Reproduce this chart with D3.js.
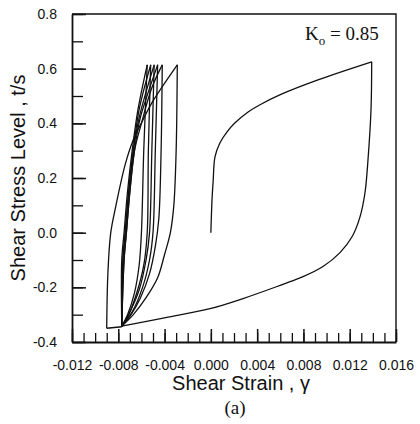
<!DOCTYPE html>
<html>
<head>
<meta charset="utf-8">
<script src="https://cdn.jsdelivr.net/npm/d3@7"></script>
<style>
  body { margin: 0; background: #fff; }
  svg { display: block; }
  .axis text { font-family: "Liberation Sans", Arial, sans-serif; font-size: 14px; fill: #111; }
  .axis path, .axis line { stroke: #111; }
</style>
</head>
<body>
<svg class="chart"></svg>
<script>
const width = 420;
const height = 424;

// tick labels
const xTickLabels = ["-0.012", "-0.008", "-0.004", "0.000", "0.004", "0.008", "0.012", "0.016"];
const yTickLabels = ["-0.4", "-0.2", "0.0", "0.2", "0.4", "0.6", "0.8"];

// branches: [shear strain, stress level]
const virginLoad = [[0, 0], [0.0001, 0.12], [0.0002, 0.19], [0.00036, 0.278], [0.00079, 0.329],
  [0.0014, 0.369], [0.00209, 0.402], [0.00313, 0.439], [0.00425, 0.468], [0.006, 0.505],
  [0.00926, 0.559], [0.0139, 0.625]];
const bigUnload = [[0.0139, 0.625], [0.01384, 0.45], [0.01358, 0.267], [0.01332, 0.146],
  [0.01289, 0.058], [0.0122, -0.015], [0.01116, -0.073], [0.00969, -0.124], [0.00797, -0.161],
  [0.00684, -0.179], [0.00572, -0.197], [0.00278, -0.241], [-0.00007, -0.278], [-0.0039, -0.311],
  [-0.0077, -0.342]];
const bottomLink = [[-0.0077, -0.344], [-0.009, -0.35]];

const load1 = [[-0.009, -0.35], [-0.0089, -0.15], [-0.00865, 0.0], [-0.0082, 0.1], [-0.0074, 0.25],
  [-0.0067, 0.34], [-0.0059, 0.41], [-0.0051, 0.475], [-0.0029, 0.614]];
const unload1 = [[-0.0029, 0.614], [-0.003, 0.3], [-0.0032, 0.1], [-0.0035, 0.0], [-0.004, -0.08],
  [-0.0046, -0.165], [-0.0056, -0.238], [-0.0067, -0.3], [-0.0077, -0.342]];
const load2 = [[-0.0077, -0.342], [-0.0075, -0.1], [-0.0073, 0.0], [-0.007, 0.15], [-0.0066, 0.3],
  [-0.006, 0.4], [-0.0051, 0.53], [-0.0042, 0.614]];
const unload2 = [[-0.0042, 0.614], [-0.0043, 0.3], [-0.0045, 0.05], [-0.0048, -0.05], [-0.0053, -0.15],
  [-0.0061, -0.24], [-0.0069, -0.3], [-0.0077, -0.342]];
const load3 = [[-0.0077, -0.342], [-0.0075, -0.1], [-0.0073, 0.0], [-0.007, 0.15], [-0.0066, 0.3],
  [-0.0061, 0.42], [-0.0046, 0.614]];
const unload3 = [[-0.0046, 0.614], [-0.0048, 0.3], [-0.005, 0.0], [-0.0053, -0.1], [-0.0059, -0.2],
  [-0.0068, -0.29], [-0.0077, -0.342]];
const load4 = [[-0.0077, -0.342], [-0.0076, -0.1], [-0.0074, 0.0], [-0.0071, 0.15], [-0.0067, 0.3],
  [-0.0062, 0.42], [-0.0049, 0.614]];
const unload4 = [[-0.0049, 0.614], [-0.0051, 0.3], [-0.0053, 0.0], [-0.0056, -0.1], [-0.0062, -0.21],
  [-0.007, -0.29], [-0.0077, -0.342]];
const load5 = [[-0.0077, -0.342], [-0.0076, -0.1], [-0.0074, 0.0], [-0.0071, 0.15], [-0.0067, 0.3],
  [-0.0062, 0.45], [-0.0052, 0.614]];
const unload5 = [[-0.0052, 0.614], [-0.0054, 0.3], [-0.0055, 0.0], [-0.0058, -0.12], [-0.0064, -0.22],
  [-0.0071, -0.3], [-0.0077, -0.342]];
const load6 = [[-0.0077, -0.342], [-0.0077, -0.1], [-0.0075, 0.0], [-0.0072, 0.15], [-0.0068, 0.3],
  [-0.0063, 0.45], [-0.0055, 0.614]];
const unload6 = [[-0.0055, 0.614], [-0.0058, 0.3], [-0.006, 0.0], [-0.0062, -0.12], [-0.0066, -0.22],
  [-0.0072, -0.3], [-0.0077, -0.342]];

const branches = [virginLoad, bigUnload, load1, unload1, load2, unload2, load3, unload3,
  load4, unload4, load5, unload5, load6, unload6];

const plot = { left: 72, right: 396, top: 14, bottom: 342 };

const x = d3.scaleLinear().domain([-0.012, 0.016]).range([plot.left, plot.right]);
const y = d3.scaleLinear().domain([-0.4, 0.8]).range([plot.bottom, plot.top]);

const svg = d3.select(".chart").attr("width", width).attr("height", height);

// frame (top and right sides)
svg.append("path")
  .attr("d", `M${plot.left},${plot.top}H${plot.right}V${plot.bottom}`)
  .attr("fill", "none")
  .attr("stroke", "#111")
  .attr("stroke-width", 1.4);

// minor ticks
const xMinor = d3.range(-0.012, 0.0161, 0.001);
const yMinor = d3.range(-0.4, 0.801, 0.1);

svg.append("g")
  .attr("class", "axis")
  .attr("transform", `translate(0,${plot.bottom})`)
  .call(d3.axisBottom(x).tickValues(xMinor).tickSizeInner(-9).tickSizeOuter(0).tickFormat(""))
  .call((g) => g.select(".domain").remove())
  .call((g) => g.selectAll("line").attr("stroke-width", 1.3));

svg.append("g")
  .attr("class", "axis")
  .attr("transform", `translate(${plot.left},0)`)
  .call(d3.axisLeft(y).tickValues(yMinor).tickSizeInner(-11).tickSizeOuter(0).tickFormat(""))
  .call((g) => g.select(".domain").remove())
  .call((g) => g.selectAll("line").attr("stroke-width", 1.3));

// major ticks with labels
svg.append("g")
  .attr("class", "axis")
  .attr("transform", `translate(0,${plot.bottom})`)
  .call(d3.axisBottom(x)
    .tickValues(xTickLabels.map(Number))
    .tickSizeInner(-13).tickSizeOuter(0).tickPadding(18)
    .tickFormat((d, i) => xTickLabels[i]))
  .call((g) => g.select(".domain").attr("stroke-width", 1.8))
  .call((g) => g.selectAll("line").attr("stroke-width", 1.5));

svg.append("g")
  .attr("class", "axis")
  .attr("transform", `translate(${plot.left},0)`)
  .call(d3.axisLeft(y)
    .tickValues(yTickLabels.map(Number))
    .tickSizeInner(-14).tickSizeOuter(0).tickPadding(15)
    .tickFormat((d, i) => yTickLabels[i]))
  .call((g) => g.select(".domain").attr("stroke-width", 1.8))
  .call((g) => g.selectAll("line").attr("stroke-width", 1.5));

// loops
const line = d3.line()
  .x((d) => x(d[0]))
  .y((d) => y(d[1]))
  .curve(d3.curveCatmullRom.alpha(0.5));

svg.append("g")
  .selectAll("path")
  .data(branches)
  .enter()
  .append("path")
  .attr("d", line)
  .attr("fill", "none")
  .attr("stroke", "#111")
  .attr("stroke-width", 1.3);

svg.append("path")
  .attr("d", d3.line().x((d) => x(d[0])).y((d) => y(d[1]))(bottomLink))
  .attr("fill", "none")
  .attr("stroke", "#111")
  .attr("stroke-width", 1.5);

// annotation
const ko = svg.append("text")
  .attr("x", 305)
  .attr("y", 40)
  .attr("font-family", "'Liberation Serif', 'Times New Roman', serif")
  .attr("font-size", 19)
  .attr("fill", "#111");
ko.append("tspan").text("K");
ko.append("tspan").attr("font-size", 13).attr("dy", 5).text("o");
ko.append("tspan").attr("dy", -5).text(" = 0.85");

// axis titles
svg.append("text")
  .attr("x", 241)
  .attr("y", 390)
  .attr("text-anchor", "middle")
  .attr("font-family", "'Liberation Sans', Arial, sans-serif")
  .attr("font-size", 20)
  .attr("fill", "#111")
  .text("Shear Strain , γ");

svg.append("text")
  .attr("transform", "translate(25,178) rotate(-90)")
  .attr("text-anchor", "middle")
  .attr("font-family", "'Liberation Sans', Arial, sans-serif")
  .attr("font-size", 20)
  .attr("fill", "#111")
  .text("Shear Stress Level , t/s");

svg.append("text")
  .attr("x", 235)
  .attr("y", 414)
  .attr("text-anchor", "middle")
  .attr("font-family", "'Liberation Serif', 'Times New Roman', serif")
  .attr("font-size", 19)
  .attr("fill", "#111")
  .text("(a)");
</script>
</body>
</html>
